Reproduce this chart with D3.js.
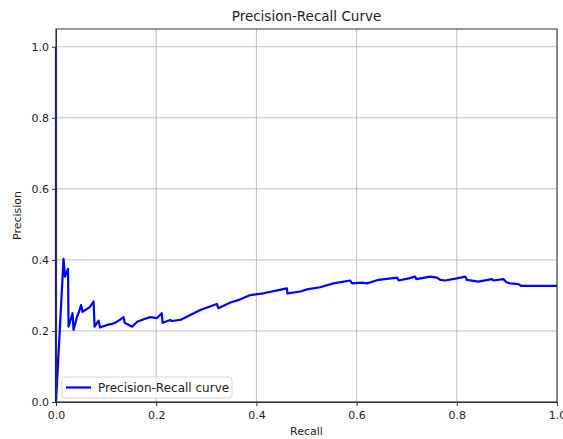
<!DOCTYPE html>
<html>
<head>
<meta charset="utf-8">
<script src="https://cdn.jsdelivr.net/npm/d3@7"></script>
<style>
  body { margin: 0; background: #fff; }
  text { font-family: "DejaVu Sans", sans-serif; fill: #222; }
  .grid line { stroke: #b0b0b0; stroke-width: 0.8; }
  .axis path, .axis line { stroke: #333; }
</style>
</head>
<body>
<div id="chart"></div>
<script>
// values
var recall = [0, 0, 0.015, 0.018, 0.024, 0.025, 0.033, 0.035, 0.042, 0.046, 0.050, 0.053,
  0.062, 0.068, 0.075, 0.077, 0.085, 0.088, 0.102, 0.112, 0.118, 0.125, 0.135, 0.137,
  0.152, 0.162, 0.175, 0.188, 0.201, 0.211, 0.213, 0.228, 0.231, 0.248, 0.288, 0.321,
  0.324, 0.348, 0.368, 0.388, 0.414, 0.444, 0.461, 0.462, 0.488, 0.501, 0.527, 0.554,
  0.587, 0.591, 0.611, 0.621, 0.644, 0.681, 0.684, 0.704, 0.717, 0.719, 0.747, 0.760,
  0.767, 0.777, 0.800, 0.817, 0.820, 0.843, 0.870, 0.873, 0.893, 0.899, 0.907, 0.923,
  0.928, 1.0];
var precision = [1.0, 0.0, 0.403, 0.353, 0.375, 0.212, 0.250, 0.203, 0.240, 0.254, 0.273, 0.254,
  0.262, 0.268, 0.283, 0.212, 0.229, 0.210, 0.217, 0.220, 0.223, 0.229, 0.239, 0.223,
  0.212, 0.226, 0.233, 0.239, 0.236, 0.250, 0.223, 0.231, 0.228, 0.231, 0.259, 0.276,
  0.264, 0.280, 0.289, 0.301, 0.306, 0.315, 0.320, 0.306, 0.311, 0.317, 0.323, 0.334,
  0.342, 0.334, 0.336, 0.334, 0.344, 0.350, 0.342, 0.348, 0.353, 0.346, 0.353, 0.350,
  0.344, 0.342, 0.348, 0.353, 0.344, 0.339, 0.346, 0.342, 0.346, 0.337, 0.334, 0.332,
  0.327, 0.327];
var xTicks = [0, 0.2, 0.4, 0.6, 0.8, 1.0];
var yTicks = [0, 0.2, 0.4, 0.6, 0.8, 1.0];
var seriesName = 'Precision-Recall curve';

var W = 563, H = 439;
var m = {left: 56, right: 6, top: 29, bottom: 37};

var svg = d3.select('#chart').append('svg')
  .attr('width', W)
  .attr('height', H);

var x = d3.scaleLinear().domain([0, 1]).range([m.left, W - m.right]);
var y = d3.scaleLinear().domain([0, 1.05]).range([H - m.bottom, m.top]);

// grid
svg.append('g').attr('class', 'grid')
  .selectAll('line.vx').data(xTicks).enter().append('line')
  .attr('x1', function(d) { return x(d); }).attr('x2', function(d) { return x(d); })
  .attr('y1', y(0)).attr('y2', y(1.05));
svg.append('g').attr('class', 'grid')
  .selectAll('line.hy').data(yTicks).enter().append('line')
  .attr('y1', function(d) { return y(d); }).attr('y2', function(d) { return y(d); })
  .attr('x1', x(0)).attr('x2', x(1));

// curve
var pts = recall.map(function(r, i) { return [r, precision[i]]; });
var line = d3.line()
  .x(function(d) { return x(d[0]); })
  .y(function(d) { return y(d[1]); });
svg.append('path')
  .datum(pts)
  .attr('d', line)
  .attr('fill', 'none')
  .attr('stroke', '#0000ff')
  .attr('stroke-width', 2.2)
  .attr('stroke-linejoin', 'round');

// axes
var fmt = d3.format('.1f');
svg.append('g').attr('class', 'axis')
  .attr('transform', 'translate(0,' + y(0) + ')')
  .call(d3.axisBottom(x).tickValues(xTicks).tickFormat(fmt).tickSize(4).tickSizeOuter(0))
  .call(function(g) { g.selectAll('text').attr('font-size', 11).attr('dy', '0.95em'); });
svg.append('g').attr('class', 'axis')
  .attr('transform', 'translate(' + x(0) + ',0)')
  .call(d3.axisLeft(y).tickValues(yTicks).tickFormat(fmt).tickSize(4).tickSizeOuter(0))
  .call(function(g) { g.selectAll('text').attr('font-size', 11); });

// frame
svg.append('rect')
  .attr('x', x(0)).attr('y', y(1.05))
  .attr('width', x(1) - x(0)).attr('height', y(0) - y(1.05))
  .attr('fill', 'none').attr('stroke', '#333').attr('stroke-width', 1);

// labels
svg.append('text').attr('x', (x(0) + x(1)) / 2).attr('y', 21)
  .attr('text-anchor', 'middle').attr('font-size', 13.5).text('Precision-Recall Curve');
svg.append('text').attr('x', (x(0) + x(1)) / 2).attr('y', 435)
  .attr('text-anchor', 'middle').attr('font-size', 11).text('Recall');
svg.append('text')
  .attr('transform', 'translate(21,' + ((y(0) + y(1.05)) / 2) + ') rotate(-90)')
  .attr('text-anchor', 'middle').attr('font-size', 11).text('Precision');

// legend
var lg = svg.append('g').attr('transform', 'translate(' + (x(0) + 6) + ',' + (y(0) - 25) + ')');
lg.append('rect').attr('width', 170).attr('height', 21).attr('rx', 3)
  .attr('fill', '#fff').attr('fill-opacity', 0.8).attr('stroke', '#d6d6d6');
lg.append('line').attr('x1', 4).attr('x2', 29).attr('y1', 10.5).attr('y2', 10.5)
  .attr('stroke', '#0000ff').attr('stroke-width', 2.2);
lg.append('text').attr('x', 36).attr('y', 15).attr('font-size', 12).text(seriesName);
</script>
</body>
</html>
